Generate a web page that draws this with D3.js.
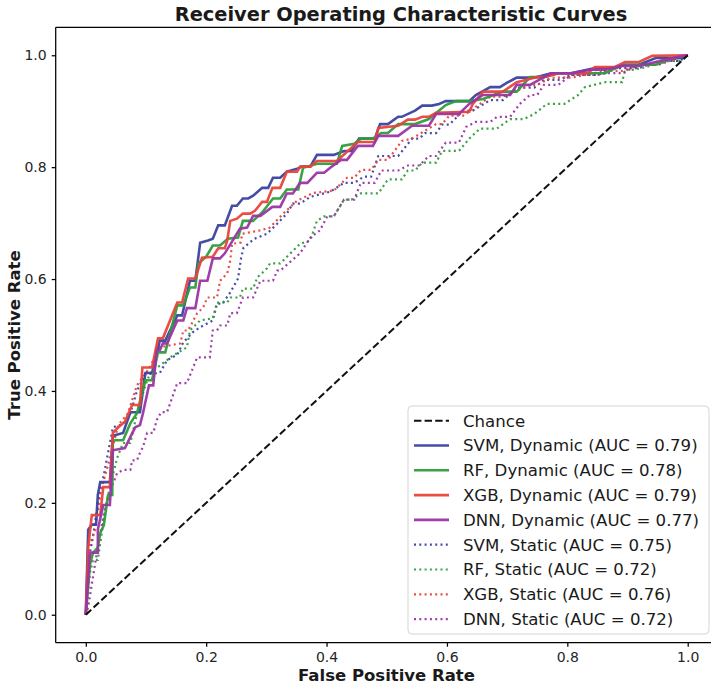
<!DOCTYPE html>
<html>
<head>
<meta charset="utf-8">
<script src="https://cdn.jsdelivr.net/npm/d3@7"></script>
<style>
  body { margin: 0; background: #fff; }
  svg { font-family: "DejaVu Sans", sans-serif; }
</style>
</head>
<body>
<div id="chart"></div>
<script>
// ROC points: [false positive rate, true positive rate]
var svmDynamic = [[0,0],[0.004,0.152],[0.010,0.161],[0.017,0.161],[0.020,0.214],[0.024,0.237],[0.040,0.237],[0.045,0.32],[0.062,0.325],[0.074,0.362],[0.090,0.362],[0.099,0.432],[0.110,0.432],[0.123,0.49],[0.132,0.49],[0.152,0.535],[0.160,0.535],[0.173,0.597],[0.182,0.597],[0.190,0.665],[0.203,0.669],[0.211,0.672],[0.220,0.696],[0.231,0.696],[0.243,0.731],[0.251,0.731],[0.261,0.744],[0.270,0.744],[0.278,0.749],[0.293,0.763],[0.303,0.763],[0.311,0.781],[0.323,0.781],[0.334,0.792],[0.351,0.797],[0.359,0.801],[0.373,0.801],[0.384,0.822],[0.412,0.822],[0.429,0.829],[0.441,0.829],[0.454,0.851],[0.480,0.851],[0.489,0.877],[0.502,0.877],[0.519,0.890],[0.525,0.890],[0.547,0.901],[0.559,0.910],[0.575,0.910],[0.587,0.913],[0.598,0.918],[0.637,0.918],[0.648,0.929],[0.672,0.943],[0.688,0.943],[0.700,0.951],[0.716,0.960],[0.745,0.960],[0.773,0.968],[0.806,0.968],[0.846,0.977],[0.879,0.977],[0.896,0.983],[0.919,0.983],[0.947,0.995],[0.992,0.995],[1,1]];
var rfDynamic = [[0,0],[0.007,0.09],[0.012,0.111],[0.020,0.12],[0.024,0.146],[0.030,0.16],[0.037,0.214],[0.044,0.214],[0.045,0.312],[0.062,0.312],[0.074,0.342],[0.085,0.36],[0.099,0.419],[0.110,0.419],[0.120,0.469],[0.132,0.469],[0.152,0.553],[0.162,0.553],[0.173,0.585],[0.182,0.585],[0.187,0.628],[0.200,0.64],[0.211,0.660],[0.223,0.660],[0.236,0.672],[0.253,0.674],[0.261,0.704],[0.278,0.704],[0.293,0.719],[0.311,0.744],[0.323,0.744],[0.334,0.760],[0.353,0.760],[0.361,0.799],[0.384,0.806],[0.417,0.806],[0.426,0.838],[0.446,0.842],[0.457,0.851],[0.477,0.851],[0.491,0.861],[0.502,0.861],[0.519,0.877],[0.547,0.877],[0.570,0.886],[0.598,0.911],[0.615,0.918],[0.637,0.918],[0.660,0.922],[0.693,0.935],[0.716,0.935],[0.738,0.961],[0.761,0.961],[0.785,0.968],[0.863,0.968],[0.891,0.983],[0.947,0.983],[0.975,0.995],[1,1]];
var xgbDynamic = [[0,0],[0.004,0.12],[0.010,0.178],[0.024,0.178],[0.029,0.228],[0.040,0.228],[0.045,0.325],[0.054,0.335],[0.065,0.345],[0.077,0.375],[0.090,0.375],[0.094,0.442],[0.110,0.442],[0.120,0.494],[0.128,0.494],[0.152,0.558],[0.160,0.558],[0.170,0.601],[0.182,0.601],[0.193,0.638],[0.211,0.640],[0.220,0.655],[0.231,0.655],[0.235,0.669],[0.240,0.704],[0.251,0.708],[0.261,0.717],[0.273,0.717],[0.281,0.722],[0.293,0.738],[0.301,0.738],[0.310,0.763],[0.323,0.763],[0.334,0.792],[0.351,0.792],[0.356,0.801],[0.373,0.801],[0.384,0.811],[0.417,0.811],[0.452,0.845],[0.480,0.845],[0.486,0.870],[0.519,0.874],[0.535,0.885],[0.547,0.885],[0.559,0.890],[0.570,0.890],[0.582,0.897],[0.637,0.899],[0.643,0.913],[0.660,0.935],[0.693,0.935],[0.716,0.952],[0.750,0.961],[0.761,0.961],[0.785,0.968],[0.834,0.968],[0.846,0.979],[0.879,0.979],[0.896,0.988],[0.919,0.988],[0.941,0.999],[1,1]];
var dnnDynamic = [[0,0],[0.007,0.111],[0.020,0.111],[0.020,0.152],[0.029,0.196],[0.040,0.196],[0.045,0.294],[0.065,0.298],[0.082,0.335],[0.090,0.339],[0.095,0.36],[0.105,0.41],[0.112,0.41],[0.118,0.473],[0.123,0.473],[0.128,0.485],[0.135,0.485],[0.152,0.526],[0.162,0.526],[0.168,0.548],[0.182,0.548],[0.190,0.597],[0.202,0.597],[0.211,0.637],[0.223,0.637],[0.231,0.646],[0.256,0.69],[0.268,0.692],[0.278,0.713],[0.290,0.713],[0.310,0.729],[0.323,0.729],[0.334,0.753],[0.344,0.753],[0.356,0.772],[0.368,0.772],[0.384,0.790],[0.396,0.790],[0.406,0.799],[0.424,0.813],[0.434,0.813],[0.452,0.838],[0.477,0.838],[0.486,0.856],[0.519,0.856],[0.542,0.874],[0.570,0.874],[0.582,0.895],[0.620,0.895],[0.637,0.913],[0.660,0.929],[0.705,0.929],[0.716,0.947],[0.738,0.947],[0.773,0.968],[0.806,0.968],[0.839,0.974],[0.863,0.974],[0.891,0.981],[0.919,0.981],[0.975,0.995],[1,1]];
var svmStatic = [[0,0],[0.005,0.10],[0.012,0.14],[0.02,0.2],[0.03,0.25],[0.045,0.335],[0.062,0.341],[0.074,0.36],[0.085,0.40],[0.099,0.43],[0.123,0.432],[0.135,0.455],[0.152,0.465],[0.162,0.487],[0.178,0.505],[0.190,0.514],[0.211,0.526],[0.218,0.556],[0.227,0.556],[0.240,0.576],[0.253,0.601],[0.258,0.638],[0.262,0.656],[0.280,0.672],[0.301,0.681],[0.318,0.699],[0.334,0.717],[0.344,0.735],[0.356,0.735],[0.373,0.747],[0.406,0.756],[0.429,0.772],[0.446,0.772],[0.462,0.783],[0.474,0.783],[0.486,0.820],[0.519,0.820],[0.542,0.851],[0.554,0.851],[0.564,0.861],[0.582,0.861],[0.592,0.876],[0.604,0.876],[0.627,0.901],[0.643,0.901],[0.672,0.920],[0.693,0.920],[0.716,0.942],[0.745,0.942],[0.761,0.956],[0.785,0.956],[0.806,0.965],[0.851,0.965],[0.879,0.977],[0.919,0.977],[0.952,0.990],[0.987,0.990],[1,1]];
var rfStatic = [[0,0],[0.007,0.075],[0.012,0.098],[0.020,0.098],[0.032,0.187],[0.040,0.228],[0.052,0.280],[0.062,0.307],[0.074,0.307],[0.085,0.36],[0.099,0.41],[0.107,0.432],[0.135,0.455],[0.140,0.460],[0.168,0.478],[0.173,0.508],[0.190,0.526],[0.211,0.530],[0.218,0.558],[0.235,0.558],[0.240,0.567],[0.256,0.567],[0.261,0.583],[0.278,0.583],[0.285,0.603],[0.301,0.619],[0.306,0.628],[0.323,0.628],[0.356,0.663],[0.373,0.669],[0.384,0.704],[0.396,0.712],[0.412,0.712],[0.429,0.742],[0.441,0.742],[0.457,0.753],[0.486,0.753],[0.502,0.778],[0.525,0.778],[0.535,0.794],[0.547,0.794],[0.559,0.808],[0.582,0.808],[0.592,0.829],[0.620,0.829],[0.637,0.851],[0.655,0.869],[0.683,0.869],[0.705,0.886],[0.728,0.886],[0.745,0.895],[0.766,0.913],[0.795,0.913],[0.818,0.929],[0.829,0.943],[0.863,0.952],[0.891,0.952],[0.896,0.974],[0.908,0.974],[0.931,0.979],[0.964,0.990],[0.987,0.990],[1,1]];
var xgbStatic = [[0,0],[0.005,0.12],[0.015,0.15],[0.025,0.22],[0.040,0.28],[0.054,0.339],[0.070,0.36],[0.085,0.41],[0.105,0.44],[0.123,0.478],[0.157,0.485],[0.162,0.508],[0.170,0.508],[0.185,0.539],[0.195,0.549],[0.202,0.567],[0.218,0.567],[0.223,0.597],[0.235,0.610],[0.240,0.633],[0.243,0.663],[0.257,0.665],[0.260,0.681],[0.290,0.687],[0.306,0.692],[0.328,0.717],[0.351,0.740],[0.378,0.754],[0.412,0.758],[0.434,0.781],[0.446,0.781],[0.457,0.795],[0.474,0.795],[0.486,0.813],[0.502,0.813],[0.525,0.847],[0.542,0.851],[0.582,0.877],[0.592,0.877],[0.604,0.892],[0.627,0.892],[0.672,0.926],[0.693,0.926],[0.738,0.947],[0.750,0.947],[0.773,0.960],[0.806,0.960],[0.863,0.972],[0.891,0.972],[0.919,0.983],[0.947,0.983],[0.975,0.992],[1,1]];
var dnnStatic = [[0,0],[0.004,0.014],[0.012,0.068],[0.020,0.121],[0.030,0.18],[0.040,0.22],[0.052,0.253],[0.062,0.259],[0.074,0.259],[0.077,0.276],[0.085,0.276],[0.090,0.289],[0.095,0.300],[0.102,0.325],[0.112,0.325],[0.118,0.348],[0.125,0.362],[0.135,0.362],[0.152,0.414],[0.168,0.414],[0.185,0.460],[0.206,0.460],[0.211,0.508],[0.218,0.508],[0.223,0.517],[0.235,0.517],[0.240,0.539],[0.251,0.539],[0.261,0.567],[0.278,0.567],[0.290,0.597],[0.311,0.597],[0.318,0.615],[0.323,0.615],[0.356,0.646],[0.373,0.674],[0.389,0.687],[0.401,0.712],[0.412,0.712],[0.429,0.742],[0.446,0.742],[0.457,0.772],[0.480,0.772],[0.491,0.794],[0.519,0.794],[0.535,0.803],[0.554,0.803],[0.570,0.820],[0.582,0.820],[0.598,0.844],[0.620,0.844],[0.632,0.872],[0.648,0.881],[0.672,0.881],[0.683,0.890],[0.705,0.890],[0.721,0.913],[0.738,0.929],[0.750,0.929],[0.761,0.947],[0.785,0.947],[0.806,0.965],[0.851,0.965],[0.863,0.968],[0.891,0.968],[0.919,0.983],[0.952,0.983],[0.975,0.992],[1,1]];
var chanceLine = [[0,0],[1,1]];

var models = ["SVM", "RF", "XGB", "DNN"];
var modelColors = ["#3a43a0", "#2f9d3a", "#e8433b", "#9b35a5"];
var dynamicAuc = ["0.79", "0.78", "0.79", "0.77"];
var staticAuc = ["0.75", "0.72", "0.76", "0.72"];
var tickValues = [0, 0.2, 0.4, 0.6, 0.8, 1.0];

function drawChart() {
    var width = 711, height = 687;

    var svg = d3.select("#chart").append("svg")
        .attr("width", width)
        .attr("height", height);

    // axes box (right edge falls outside the picture)
    var boxLeft = 55.7, boxRight = 717.8, boxTop = 27.3, boxBottom = 642.7;

    var xScale = d3.scaleLinear().domain([-0.05, 1.05]).range([boxLeft, boxRight]);
    var yScale = d3.scaleLinear().domain([-0.05, 1.05]).range([boxBottom, boxTop]);

    svg.append("defs").append("clipPath").attr("id", "plotClip")
        .append("rect")
        .attr("x", boxLeft).attr("y", boxTop)
        .attr("width", boxRight - boxLeft).attr("height", boxBottom - boxTop);

    var lineGen = d3.line()
        .x(function (d) { return xScale(d[0]); })
        .y(function (d) { return yScale(d[1]); });

    var plot = svg.append("g").attr("clip-path", "url(#plotClip)");

    // series list, in legend order
    var series = [
        {label: "Chance", data: chanceLine, color: "#111", dash: "7.4,3.2", width: 2}
    ];
    var dynamicData = [svmDynamic, rfDynamic, xgbDynamic, dnnDynamic];
    var staticData = [svmStatic, rfStatic, xgbStatic, dnnStatic];
    models.forEach(function (m, i) {
        series.push({label: m + ", Dynamic (AUC = " + dynamicAuc[i] + ")", data: dynamicData[i],
            color: modelColors[i], dash: null, width: 2.6, opacity: 0.95});
    });
    models.forEach(function (m, i) {
        series.push({label: m + ", Static (AUC = " + staticAuc[i] + ")", data: staticData[i],
            color: modelColors[i], dash: "2,3.3", width: 2.2, opacity: 0.95});
    });

    // draw order: dotted first, then solids, then chance
    var drawOrder = [5, 6, 7, 8, 1, 2, 3, 4, 0];
    drawOrder.forEach(function (k) {
        var s = series[k];
        plot.append("path")
            .datum(s.data)
            .attr("d", lineGen)
            .attr("fill", "none")
            .attr("stroke", s.color)
            .attr("stroke-width", s.width)
            .attr("stroke-opacity", s.opacity || 1)
            .attr("stroke-dasharray", s.dash)
            .attr("stroke-linecap", "butt");
    });

    // axes
    var xAxis = d3.axisBottom(xScale).tickValues(tickValues).tickSize(4).tickPadding(5)
        .tickFormat(d3.format(".1f"));
    var yAxis = d3.axisLeft(yScale).tickValues(tickValues).tickSize(4).tickPadding(5)
        .tickFormat(d3.format(".1f"));

    function styleAxis(g) {
        g.selectAll("text").style("font-size", "14px").style("font-family", "DejaVu Sans")
            .attr("fill", "#262626");
        g.selectAll("line").attr("stroke", "#000").attr("stroke-width", 1.25);
        g.select(".domain").attr("stroke", "#000").attr("stroke-width", 1.25);
    }

    svg.append("g")
        .attr("transform", "translate(0," + boxBottom + ")")
        .call(xAxis)
        .call(function (g) { g.select(".domain").attr("d", "M" + boxLeft + ",0H" + boxRight); })
        .call(styleAxis);

    svg.append("g")
        .attr("transform", "translate(" + boxLeft + ",0)")
        .call(yAxis)
        .call(function (g) { g.select(".domain").attr("d", "M0," + boxBottom + "V" + boxTop); })
        .call(styleAxis);

    // top spine
    svg.append("line")
        .attr("x1", boxLeft).attr("x2", boxRight)
        .attr("y1", boxTop).attr("y2", boxTop)
        .attr("stroke", "#000").attr("stroke-width", 1.25);

    // titles
    svg.append("text")
        .attr("x", 401)
        .attr("y", 21)
        .attr("text-anchor", "middle")
        .style("font-size", "19.4px")
        .attr("font-weight", "bold")
        .attr("fill", "#1a1a1a")
        .text("Receiver Operating Characteristic Curves");

    svg.append("text")
        .attr("x", 386.5)
        .attr("y", 681)
        .attr("text-anchor", "middle")
        .style("font-size", "16.5px")
        .attr("font-weight", "bold")
        .attr("fill", "#1a1a1a")
        .text("False Positive Rate");

    svg.append("text")
        .attr("transform", "translate(20," + ((boxTop + boxBottom) / 2) + ") rotate(-90)")
        .attr("text-anchor", "middle")
        .style("font-size", "16.5px")
        .attr("font-weight", "bold")
        .attr("fill", "#1a1a1a")
        .text("True Positive Rate");

    // legend
    var legend = svg.append("g").attr("transform", "translate(408,406)");
    legend.append("rect")
        .attr("width", 301).attr("height", 228)
        .attr("rx", 4)
        .attr("fill", "#fff").attr("fill-opacity", 0.8)
        .attr("stroke", "#d5d5d5").attr("stroke-width", 1);

    series.forEach(function (s, i) {
        var row = legend.append("g").attr("transform", "translate(0," + (14.7 + i * 24.8) + ")");
        row.append("line")
            .attr("x1", 6).attr("x2", 41)
            .attr("stroke", s.color)
            .attr("stroke-width", s.width)
            .attr("stroke-opacity", s.opacity || 1)
            .attr("stroke-dasharray", s.dash);
        row.append("text")
            .attr("x", 55)
            .attr("dy", "0.35em")
            .style("font-size", "16.6px")
            .attr("fill", "#1a1a1a")
            .text(s.label);
    });
}

drawChart();
</script>
</body>
</html>
